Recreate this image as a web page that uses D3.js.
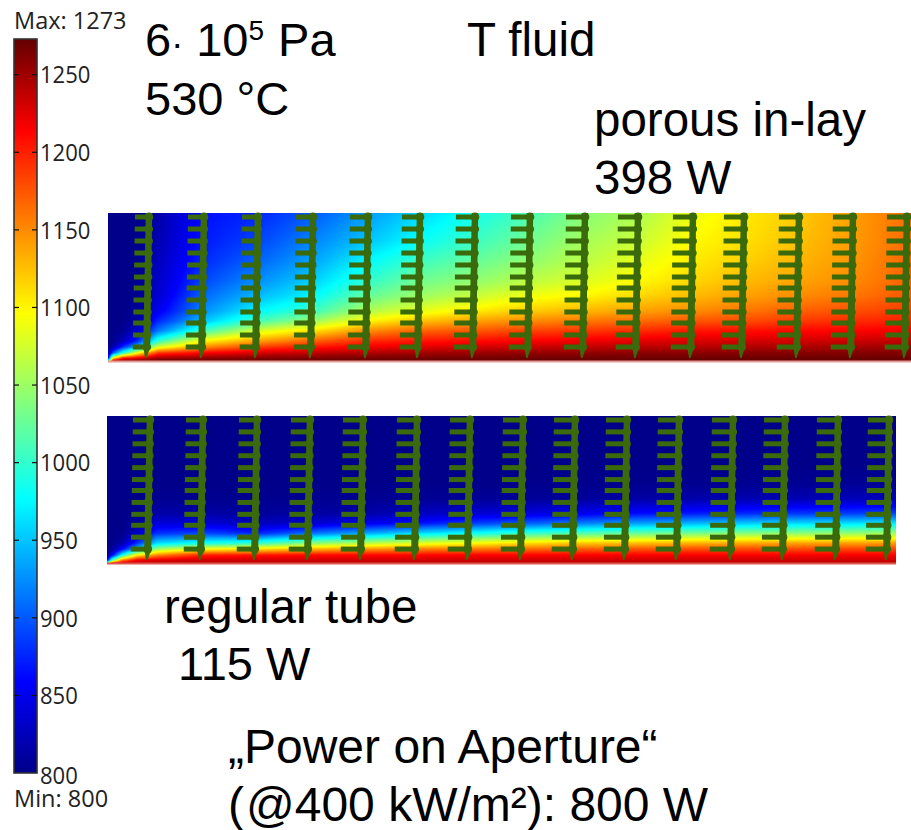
<!DOCTYPE html>
<html>
<head>
<meta charset="utf-8">
<script src="https://cdn.jsdelivr.net/npm/d3@7"></script>
<style>
body { margin: 0; background: #fff; }
svg { display: block; }
</style>
</head>
<body>
<script>
const tempStops = [800, 859, 918, 977, 1037, 1096, 1155, 1214, 1273]
const jetColors = ["#00008a", "#0000ff", "#0080ff", "#00ffff", "#80ff80", "#ffff00", "#ff8000", "#ff0000", "#640000"]
const legendTicks = [800, 850, 900, 950, 1000, 1050, 1100, 1150, 1200, 1250]

// distance from the heated wall, mm
const wallDepth = [0, 0.3, 0.8, 1.4, 2, 3, 4, 5, 6.5, 8, 10, 12, 14.8]

// porous in-lay: one row per axial position, one value per wallDepth
const topAxial = [0, 0.5, 1.5, 3, 5, 9.6, 15, 20.5, 26, 31.2, 36.7, 42.2, 47.7, 53.2, 58.5, 63.6, 69.1, 74.5, 80.3]
const topField = [
    [1000, 850, 800, 800, 800, 800, 800, 800, 800, 800, 800, 800, 800],
    [1240, 1100, 900, 815, 800, 800, 800, 800, 800, 800, 800, 800, 800],
    [1265, 1200, 1000, 880, 825, 805, 800, 800, 800, 800, 800, 800, 800],
    [1270, 1220, 1100, 950, 880, 835, 815, 808, 804, 803, 802, 801, 800],
    [1272, 1250, 1190, 1080, 1000, 915, 875, 850, 835, 830, 825, 820, 815],
    [1273, 1255, 1215, 1150, 1100, 1010, 950, 925, 908, 892, 878, 870, 865],
    [1273, 1260, 1230, 1185, 1140, 1080, 1010, 975, 945, 925, 905, 890, 875],
    [1273, 1262, 1238, 1205, 1170, 1110, 1050, 1005, 975, 955, 935, 920, 900],
    [1273, 1265, 1245, 1218, 1195, 1150, 1100, 1060, 1025, 1000, 975, 950, 930],
    [1273, 1266, 1250, 1225, 1205, 1170, 1125, 1085, 1050, 1030, 1005, 980, 958],
    [1273, 1267, 1252, 1230, 1210, 1175, 1140, 1105, 1070, 1045, 1025, 1005, 985],
    [1273, 1268, 1255, 1235, 1215, 1185, 1150, 1120, 1090, 1065, 1045, 1030, 1012],
    [1273, 1268, 1256, 1238, 1220, 1190, 1160, 1130, 1100, 1080, 1065, 1055, 1040],
    [1273, 1269, 1258, 1240, 1225, 1195, 1165, 1140, 1115, 1098, 1085, 1072, 1058],
    [1273, 1269, 1258, 1242, 1228, 1205, 1175, 1150, 1128, 1115, 1105, 1098, 1088],
    [1273, 1270, 1260, 1245, 1230, 1208, 1180, 1160, 1140, 1128, 1118, 1110, 1105],
    [1273, 1270, 1260, 1246, 1232, 1212, 1188, 1170, 1150, 1138, 1130, 1125, 1120],
    [1273, 1270, 1261, 1248, 1234, 1214, 1195, 1178, 1160, 1150, 1145, 1142, 1140],
    [1273, 1270, 1262, 1250, 1238, 1218, 1200, 1188, 1175, 1170, 1168, 1166, 1165]
]

// regular tube
const bottomAxial = [0, 0.5, 1.5, 3, 5, 9.6, 15, 20.3, 25.6, 31, 36.3, 41.6, 46.8, 52, 57.3, 62.6, 67.8, 73.1, 78.9]
const bottomField = [
    [1000, 850, 800, 800, 800, 800, 800, 800, 800, 800, 800, 800, 800],
    [1200, 1000, 850, 805, 800, 800, 800, 800, 800, 800, 800, 800, 800],
    [1235, 1150, 980, 860, 815, 800, 800, 800, 800, 800, 800, 800, 800],
    [1240, 1215, 1100, 950, 880, 830, 810, 803, 800, 800, 800, 800, 800],
    [1240, 1225, 1150, 1050, 960, 880, 840, 815, 803, 800, 800, 800, 800],
    [1240, 1232, 1200, 1095, 985, 890, 840, 815, 803, 800, 800, 800, 800],
    [1240, 1232, 1205, 1110, 1000, 875, 825, 808, 802, 800, 800, 800, 800],
    [1240, 1232, 1210, 1130, 1040, 910, 835, 812, 803, 800, 800, 800, 800],
    [1240, 1232, 1212, 1145, 1060, 935, 850, 815, 804, 800, 800, 800, 800],
    [1240, 1232, 1212, 1155, 1080, 960, 865, 825, 805, 800, 800, 800, 800],
    [1240, 1232, 1214, 1160, 1095, 980, 885, 835, 806, 800, 800, 800, 800],
    [1240, 1232, 1214, 1165, 1110, 1000, 900, 842, 807, 801, 800, 800, 800],
    [1240, 1232, 1215, 1170, 1120, 1012, 915, 850, 808, 801, 800, 800, 800],
    [1240, 1232, 1215, 1175, 1125, 1022, 930, 860, 812, 802, 800, 800, 800],
    [1240, 1232, 1215, 1178, 1130, 1030, 940, 868, 815, 802, 800, 800, 800],
    [1240, 1232, 1215, 1180, 1135, 1038, 950, 875, 818, 803, 800, 800, 800],
    [1240, 1232, 1215, 1180, 1138, 1042, 958, 882, 820, 804, 800, 800, 800],
    [1240, 1232, 1216, 1182, 1140, 1045, 962, 885, 822, 805, 800, 800, 800],
    [1240, 1232, 1216, 1182, 1142, 1050, 968, 890, 825, 806, 800, 800, 800]
]

// fin locations along the tube and heights from the wall, mm
const topFins = [4.1, 9.6, 15, 20.5, 26, 31.2, 36.7, 42.2, 47.7, 53, 58.5, 63.6, 69.1, 74.5, 79.9]
const topFinReach = [1.4, 1.6, 1.6, 1.7, 1.8, 1.8, 1.9, 1.9, 1.9, 2, 2, 2, 2, 2, 2]
const bottomFins = [4.3, 9.6, 15, 20.3, 25.6, 31, 36.3, 41.6, 46.8, 52, 57.2, 62.6, 67.8, 73.1, 78.2]
const bottomFinReach = [1.7, 1.7, 1.8, 1.9, 2, 2, 2, 2, 2.1, 2.1, 2.1, 2.1, 2.1, 2.1, 2.1]
const finBars = [14.4, 13.2, 12, 10.8, 9.6, 8.4, 7.3, 6.1, 4.9, 3.8, 2.6, 1.4]

const width = 911
const height = 830

const svg = d3.select("body").append("svg")
    .attr("width", width)
    .attr("height", height)
    .attr("viewBox", [0, 0, width, height])

const color = d3.scaleLinear().domain(tempStops).range(jetColors).clamp(true)

const soft = svg.append("defs").append("filter").attr("id", "soft")
soft.append("feGaussianBlur").attr("stdDeviation", 0.7)

function panel(opts) {
    const x = d3.scaleLinear([0, opts.axial[opts.axial.length - 1]], opts.xRange)
    const y = d3.scaleLinear([0, 14.8], opts.yRange)
    const w = opts.xRange[1] - opts.xRange[0]
    const h = opts.yRange[0] - opts.yRange[1]

    const rowScales = wallDepth.map((_, r) => d3.scaleLinear(opts.axial, opts.field.map(col => col[r])))
    const canvas = d3.create("canvas").attr("width", w).attr("height", h).node()
    const ctx = canvas.getContext("2d")
    for (let i = 0; i < w; i++) {
        const a = x.invert(opts.xRange[0] + i + 0.5)
        const profile = d3.scaleLinear(wallDepth, rowScales.map(s => s(a)))
        for (let j = 0; j < h; j++) {
            ctx.fillStyle = color(profile(y.invert(opts.yRange[1] + j + 0.5)))
            ctx.fillRect(i, j, 1, 1)
        }
    }
    svg.append("image")
        .attr("x", opts.xRange[0])
        .attr("y", opts.yRange[1])
        .attr("width", w)
        .attr("height", h)
        .attr("href", canvas.toDataURL())

    svg.append("line")
        .attr("x1", opts.xRange[0])
        .attr("x2", opts.xRange[1])
        .attr("y1", y(0) + 0.5)
        .attr("y2", y(0) + 0.5)
        .attr("stroke", opts.wallColor)
        .attr("stroke-width", 2)

    const fins = svg.append("g")
        .attr("fill", "#3a6a08")
        .attr("filter", "url(#soft)")
        .selectAll("g")
        .data(opts.fins)
        .join("g")

    // the spine leans a little towards the tube inlet near the wall
    const lean = d => x(0.25 * (d - 14.8) / 14.8)  - x(0)
    fins.each(function (f, i) {
        const g = d3.select(this)
        g.selectAll("rect")
            .data(finBars)
            .join("rect")
            .attr("x", d => x(f - opts.reach[i]) + lean(d))
            .attr("y", d => y(d) - 2.5)
            .attr("width", x(opts.reach[i]) - x(0) + 2)
            .attr("height", 5)
        g.selectAll("circle")
            .data(finBars)
            .join("circle")
            .attr("cx", d => x(f) + lean(d))
            .attr("cy", d => y(d))
            .attr("r", 4.4)
        g.append("path")
            .attr("d", d3.line().x(d => x(f) + lean(d[0]) + d[1]).y(d => y(d[0]))([
                [14.8, -3.2], [14.8, 3.2], [1.4, 3.5], [0.3, 0], [0.3, -1.5], [1.4, -3.5]
            ]))
    })
}

panel({ axial: topAxial, field: topField, fins: topFins, reach: topFinReach, xRange: [108, 911], yRange: [361, 213], wallColor: "#e39a94" })
panel({ axial: bottomAxial, field: bottomField, fins: bottomFins, reach: bottomFinReach, xRange: [107, 896], yRange: [563, 416], wallColor: "#e0564c" })

// colour legend
const legendY = d3.scaleLinear([800, 1273], [773, 39])
const grad = svg.select("defs").append("linearGradient")
    .attr("id", "jet")
    .attr("x1", 0).attr("x2", 0).attr("y1", 1).attr("y2", 0)
grad.selectAll("stop")
    .data(tempStops)
    .join("stop")
    .attr("offset", d => (d - 800) / 473)
    .attr("stop-color", d => color(d))

svg.append("rect")
    .attr("x", 14)
    .attr("y", legendY(1273))
    .attr("width", 23)
    .attr("height", legendY(800) - legendY(1273))
    .attr("fill", "url(#jet)")
    .attr("stroke", "#333")
    .attr("stroke-width", 1.6)

const dashes = svg.append("g").attr("stroke", "#111").attr("stroke-width", 1.2)
    .selectAll("g")
    .data(legendTicks.filter(d => d > 800))
    .join("g")
dashes.append("line").attr("x1", 14).attr("x2", 19).attr("y1", d => legendY(d)).attr("y2", d => legendY(d))
dashes.append("line").attr("x1", 32).attr("x2", 37).attr("y1", d => legendY(d)).attr("y2", d => legendY(d))

const legendFont = "'Open Sans', sans-serif"
svg.append("g")
    .attr("transform", "translate(37,0)")
    .call(d3.axisRight(legendY).tickValues(legendTicks).tickSize(0).tickPadding(3).tickFormat(d3.format("d")))
    .call(g => g.select(".domain").remove())
    .call(g => g.selectAll("text")
        .attr("font-family", legendFont)
        .attr("font-size", 23)
        .attr("fill", "#222")
        .attr("dy", "0.36em")
        .attr("textLength", d => String(d).length * 12.6)
        .attr("lengthAdjust", "spacingAndGlyphs"))
    .call(g => g.selectAll(".tick").filter(d => d === 800).select("text").attr("dy", "0.45em"))

const legendText = [["Max: 1273", 14, 28.5], ["Min: 800", 14, 807]]
svg.append("g").selectAll("text")
    .data(legendText)
    .join("text")
    .attr("x", d => d[1])
    .attr("y", d => d[2])
    .attr("font-family", legendFont)
    .attr("font-size", 23.5)
    .attr("fill", "#222")
    .text(d => d[0])

// slide captions
const captions = [
    ["530 °C", 145, 114.5, 47],
    ["T fluid", 467, 56, 47.5],
    ["porous in-lay", 594, 136, 47.5],
    ["398 W", 594, 194, 47.5],
    ["regular tube", 164, 623, 47.5],
    ["115 W", 178, 680, 47],
    ["„Power on Aperture“", 228, 763, 48]
]
const captionG = svg.append("g")
    .attr("font-family", "'Liberation Sans', Arial, sans-serif")
    .attr("font-size", 47)
    .attr("fill", "#000")
captionG.selectAll("text")
    .data(captions)
    .join("text")
    .attr("x", d => d[1])
    .attr("y", d => d[2])
    .attr("font-size", d => d[3])
    .text(d => d[0])

const power = captionG.append("text").attr("x", 228).attr("y", 821).attr("font-size", 48)
power.append("tspan").text("(")
power.append("tspan").attr("dx", 2).text("@400 kW/m²): 800 W")

const pressure = captionG.append("text").attr("x", 145).attr("y", 55.5)
pressure.append("tspan").text("6")
pressure.append("tspan").attr("font-size", 36).text("·")
pressure.append("tspan").text(" 10")
pressure.append("tspan").attr("font-size", 28).attr("dy", -15.5).text("5")
pressure.append("tspan").attr("dy", 15.5).attr("dx", 1).text(" Pa")
</script>
</body>
</html>
